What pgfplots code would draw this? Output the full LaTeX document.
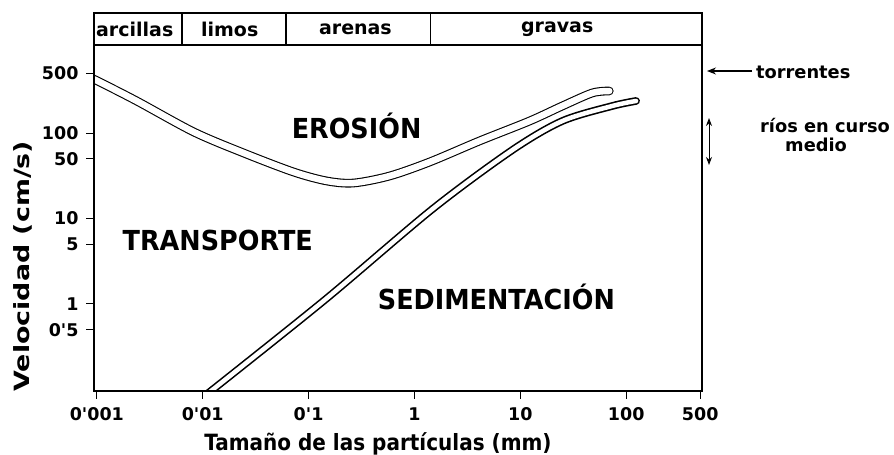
\documentclass[border=0pt]{standalone}
\usepackage{fontspec}
\setmainfont{DejaVu Sans}
\usepackage{pgfplots}
\pgfplotsset{compat=1.18}
\usetikzlibrary{arrows.meta}
\newcommand{\tk}{\fontsize{17.5}{20}\selectfont\bfseries}
\newcommand{\hd}{\fontsize{19}{22}\selectfont\bfseries}
\newcommand{\rgn}{\fontsize{25.5}{30}\selectfont\bfseries}
\newcommand{\rt}{\fontsize{17.8}{21}\selectfont\bfseries}
\begin{document}
\begin{tikzpicture}
\begin{axis}[
  name=main, at={(0pt,0pt)}, anchor=south west,
  scale only axis, width=608pt, height=346pt,
  xmode=log, ymode=log,
  xmin=0.00094, xmax=520, ymin=0.096, ymax=1070,
  axis on top,
  axis line style={line width=2pt},
  tick align=outside, major tick length=8pt,
  tick style={line width=1pt, black},
  tick pos=left,
  xminorticks=false, yminorticks=false,
  xtick={0.001,0.01,0.1,1,10,100,500},
  xticklabels={0\textquotesingle 001,0\textquotesingle 01,0\textquotesingle 1,1,10,100,500},
  ytick={0.5,1,5,10,50,100,500},
  yticklabels={0\textquotesingle 5,1,5,10,50,100,500},
  tick label style={font=\tk},
  xticklabel style={yshift=-5pt},
  yticklabel style={xshift=-4pt},
  xlabel={\scalebox{1}[1.12]{Tamaño de las partículas (mm)}},
  xlabel style={at={(axis description cs:0.467,-0.153)}, anchor=center, inner sep=0pt, font=\fontsize{20}{24}\selectfont\bfseries},
  ylabel={\scalebox{1.28}[1]{Velocidad (cm/s)}},
  ylabel style={at={(axis description cs:-0.1176,0.361)}, anchor=center, inner sep=0pt, font=\fontsize{21}{25}\selectfont\bfseries},
]
% Erosion curve
\addplot[draw=black, double=white, double distance=6.5pt, line width=1.1pt, line cap=round, smooth]
  coordinates {(0.0009,430) (0.001,410) (0.00238,237) (0.00822,103) (0.0244,58.3) (0.0721,35.0) (0.148,27.5) (0.266,26.0) (0.581,31.4) (1.39,45.8) (4.10,80.6) (12.2,138) (24.9,207) (47.8,294) (69.2,310)};
% Sedimentation curve
\addplot[draw=black, double=white, double distance=4.5pt, line width=1.6pt, line cap=round, smooth]
  coordinates {(0.0112,0.09) (0.1416,1.11) (1.48,12.9) (8.41,63.2) (24.9,138) (73.8,207) (124,237)};
\node[font=\rgn] at (axis cs:0.284,121) {\scalebox{1}[1.08]{EROSIÓN}};
\node[font=\rgn] at (axis cs:0.01387,5.6) {\scalebox{1}[1.08]{TRANSPORTE}};
\node[font=\rgn] at (axis cs:5.94,1.21) {\scalebox{1}[1.08]{SEDIMENTACIÓN}};
\end{axis}
\begin{axis}[
  name=head, at={(0pt,346pt)}, anchor=south west,
  scale only axis, width=608pt, height=32pt,
  xmode=log, xmin=0.00094, xmax=520, ymin=0, ymax=1,
  axis line style={line width=2pt},
  xtick=\empty, ytick=\empty, clip=false,
]
\draw[line width=1.8pt] (axis cs:0.00634,0) -- (axis cs:0.00634,1);
\draw[line width=1.8pt] (axis cs:0.0607,0) -- (axis cs:0.0607,1);
\draw[line width=1.8pt] (axis cs:1.416,0) -- (axis cs:1.416,1);
\node[font=\hd] at (axis cs:0.00228,0.5) {arcillas};
\node[font=\hd] at (axis cs:0.018,0.5) {limos};
\node[font=\hd] at (axis cs:0.277,0.5) {arenas};
\node[font=\hd] at (axis cs:22.3,0.5) {gravas};
\end{axis}
\draw[line width=1.2pt, -{Stealth[length=9pt,width=7pt]}] (658pt,320pt) -- (613pt,320pt);
\node[anchor=west, inner sep=0pt, font=\rt] at (662pt,319pt) {torrentes};
\draw[line width=1pt, {Stealth[length=8pt,width=6pt]}-{Stealth[length=8pt,width=6pt]}] (615pt,273pt) -- (615pt,226pt);
\node[anchor=west, inner sep=0pt, font=\rt] at (666pt,265pt) {ríos en curso};
\node[anchor=west, inner sep=0pt, font=\rt] at (691pt,246pt) {medio};
\pgfresetboundingbox
\path[use as bounding box] (-94pt,-64pt) rectangle (800pt,391pt);
\end{tikzpicture}
\end{document}
